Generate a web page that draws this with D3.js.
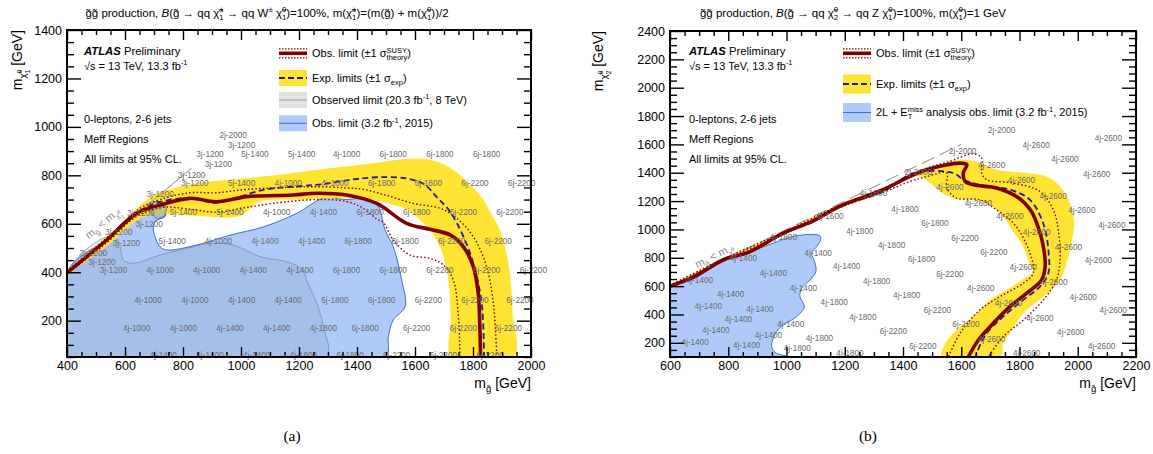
<!DOCTYPE html>
<html>
<head>
<meta charset="utf-8">
<script src="https://cdn.jsdelivr.net/npm/d3@7"></script>
<style>
  body { margin: 0; background: #fff; }
  svg { font-family: "Liberation Sans", Arial, sans-serif; }
</style>
</head>
<body>
<svg id="chart" width="1153" height="454"></svg>
<script>
// gluino exclusion plots, two panels (a) and (b)
// all curves in GeV: [m_gluino, m_neutralino]

const G = "g\u0303", X = "\u03c7\u0303"

// ---- panel (a) ----
const obsA = [[400,398],[537,533],[640,643],[732,681],[824,705],[916,691],[1020,712],[1180,719],[1261,726],[1364,719],[1468,684],[1571,602],[1652,577],[1721,554],[1767,505],[1801,423],[1818,313],[1824,161],[1826,50]]
const obsUpA = [[400,405],[550,555],[650,662],[721,700],[824,728],[916,728],[1020,742],[1261,753],[1364,748],[1422,742],[1500,718],[1594,684],[1686,664],[1744,623],[1801,547],[1847,423],[1870,272],[1878,148],[1882,50]]
const obsDnA = [[400,392],[540,525],[640,630],[732,668],[824,660],[916,648],[1020,668],[1150,690],[1261,700],[1364,692],[1420,665],[1468,620],[1491,605],[1525,533],[1583,471],[1652,457],[1698,430],[1732,368],[1749,230],[1755,50]]
const expA = [[400,400],[540,538],[640,645],[721,690],[824,705],[916,687],[1077,740],[1200,755],[1284,764],[1380,782],[1468,792],[1560,789],[1629,765],[1675,710],[1721,650],[1767,547],[1801,437],[1830,272],[1838,50]]
const bandOutA = [[400,408],[550,560],[698,719],[767,746],[847,767],[1077,795],[1307,829],[1468,852],[1560,866],[1629,868],[1700,845],[1744,812],[1790,760],[1830,710],[1859,650],[1893,574],[1922,437],[1937,230],[1941,50]]
const bandInA = [[400,392],[550,520],[650,620],[732,640],[850,632],[997,632],[1060,690],[1200,700],[1350,705],[1450,700],[1520,680],[1571,660],[1629,602],[1686,505],[1715,368],[1723,203],[1726,50]]
const run2015A = [[400,50],[400,400],[540,540],[640,640],[686,670],[732,700],[744,657],[738,630],[703,609],[698,574],[721,505],[744,492],[847,512],[962,553],[1077,587],[1192,643],[1284,705],[1364,700],[1422,705],[1468,684],[1497,574],[1525,505],[1554,368],[1566,258],[1525,203],[1508,134],[1497,50]]
const run8A = [[400,50],[400,400],[550,550],[580,520],[594,450],[629,437],[721,471],[836,505],[893,519],[973,512],[1066,464],[1158,443],[1215,409],[1226,368],[1261,272],[1284,175],[1293,50]]
const run8PatchA = [[684,668],[700,692],[728,690],[744,662],[736,632],[710,618],[694,640]]
const diagA = [[400,400],[830,830]]
const srA = [
  [640,170,"4j-1000"],[801,170,"4j-1000"],[962,170,"4j-1400"],[1123,170,"4j-1400"],[1284,170,"4j-1800"],[1428,170,"6j-1800"],[1606,170,"6j-2200"],[1767,170,"6j-2200"],[1922,170,"6j-2200"],
  [680,285,"4j-1000"],[841,285,"4j-1000"],[1002,285,"4j-1400"],[1163,285,"4j-1400"],[1324,285,"6j-1800"],[1485,285,"6j-1800"],[1646,285,"6j-2200"],[1807,285,"6j-2200"],[1962,285,"6j-2200"],
  [560,409,"3j-1200"],[721,409,"4j-1000"],[882,409,"4j-1000"],[1042,409,"4j-1400"],[1203,409,"4j-1400"],[1364,409,"6j-1800"],[1525,409,"6j-1800"],[1686,409,"6j-2200"],[1847,409,"6j-2200"],[2008,409,"6j-2200"],
  [605,522,"3j-1200"],[763,529,"5j-1400"],[922,529,"4j-1000"],[1083,529,"4j-1400"],[1244,529,"4j-1400"],[1404,529,"6j-1800"],[1566,529,"6j-1800"],[1727,529,"6j-2200"],[1887,529,"6j-2200"],
  [801,649,"5j-1400"],[962,649,"5j-1400"],[1123,649,"4j-1000"],[1284,649,"4j-1400"],[1445,649,"6j-1800"],[1606,649,"6j-1800"],[1767,649,"6j-2200"],[1927,649,"6j-2200"],
  [841,768,"3j-1200"],[1002,768,"5j-1400"],[1163,768,"4j-1000"],[1324,768,"4j-1000"],[1485,768,"6j-1800"],[1646,768,"6j-1800"],[1807,768,"6j-2200"],[1968,768,"6j-2200"],
  [893,888,"3j-1200"],[1048,888,"5j-1400"],[1209,888,"5j-1400"],[1364,888,"4j-1000"],[1525,888,"6j-1800"],[1686,888,"6j-1800"],[1847,888,"6j-1800"],
  [922,845,"3j-1200"],[973,968,"2j-2000"],[1002,926,"3j-1200"],[830,802,"3j-1200"],[721,723,"3j-1200"],[655,643,"3j-1200"],[683,600,"3j-1200"],[578,566,"3j-1200"],[491,481,"3j-1200"],[520,444,"3j-1200"],
  [732,58,"4j-1400"],[893,58,"4j-1400"],[1054,58,"4j-1400"],[1215,58,"4j-1800"],[1376,58,"6j-1800"],[1537,58,"6j-2200"],[1698,58,"6j-2200"],[1859,58,"6j-2200"]
]

// ---- panel (b) ----
const obsB = [[600,600],[680,663],[783,786],[875,844],[989,974],[1087,1056],[1184,1165],[1332,1280],[1413,1363],[1481,1421],[1596,1468],[1619,1457],[1607,1398],[1613,1339],[1641,1315],[1721,1292],[1795,1225],[1840,1130],[1865,1010],[1882,879],[1888,738],[1876,644],[1825,550],[1767,455],[1710,338],[1659,220],[1624,100]]
const obsUpB = [[600,606],[783,792],[989,980],[1184,1172],[1332,1290],[1413,1372],[1481,1432],[1561,1480],[1641,1534],[1670,1504],[1670,1398],[1687,1351],[1779,1327],[1870,1268],[1916,1139],[1933,997],[1939,785],[1927,644],[1882,503],[1813,361],[1744,243],[1693,100]]
const obsDnB = [[600,594],[783,780],[989,965],[1184,1155],[1332,1262],[1420,1335],[1480,1372],[1550,1398],[1550,1292],[1584,1221],[1664,1209],[1721,1139],[1784,1033],[1836,833],[1847,691],[1813,621],[1733,526],[1664,432],[1596,267],[1556,100]]
const expB = [[600,598],[680,660],[783,783],[875,840],[989,970],[1087,1050],[1184,1160],[1332,1268],[1436,1397],[1573,1398],[1607,1351],[1664,1315],[1767,1280],[1836,1209],[1882,1040],[1899,856],[1899,691],[1870,597],[1813,503],[1744,385],[1687,267],[1653,126],[1650,100]]
const bandOutB = [[600,606],[783,794],[989,982],[1184,1176],[1332,1292],[1420,1380],[1500,1440],[1560,1475],[1619,1492],[1664,1468],[1721,1421],[1825,1398],[1893,1374],[1939,1304],[1973,1186],[1988,1045],[1980,920],[1968,809],[1939,644],[1882,526],[1813,409],[1767,267],[1744,197],[1733,100]]
const bandInB = [[600,592],[783,776],[989,960],[1184,1150],[1332,1260],[1390,1345],[1458,1374],[1493,1327],[1527,1268],[1573,1221],[1641,1209],[1699,1174],[1744,1091],[1779,980],[1807,903],[1836,750],[1848,703],[1825,667],[1756,573],[1699,503],[1641,385],[1573,267],[1539,173],[1533,100]]
const twoLB = [[600,100],[600,590],[680,650],[783,773],[955,903],[1001,938],[1058,962],[1115,955],[1117,927],[1104,879],[1087,833],[1098,762],[1101,703],[1081,644],[1052,585],[1046,526],[1061,455],[1035,385],[989,326],[966,279],[949,173],[966,126],[1001,105],[1001,100]]
const diagB = [[600,600],[1600,1600]]
const srB = [
  [1149,1096,"4j-1600"],[1109,837,"4j-1400"],[955,691,"4j-1400"],[808,545,"4j-1400"],[732,460,"4j-1400"],[835,366,"4j-1400"],[758,291,"4j-1400"],[686,208,"4j-1400"],[909,437,"4j-1400"],[938,255,"4j-1400"],[863,183,"4j-1400"],[1058,585,"4j-1400"],[1014,333,"4j-1400"],[701,644,"4j-1400"],[852,797,"4j-1400"],[989,946,"4j-1800"],
  [1252,992,"4j-1800"],[1361,891,"4j-1800"],[1464,790,"6j-1800"],[1207,743,"4j-1400"],[1310,637,"4j-1800"],[1413,538,"4j-1800"],[1164,489,"4j-1800"],[1262,381,"4j-1800"],[1367,284,"6j-2200"],[1468,178,"6j-2200"],[1113,234,"4j-1800"],[1037,164,"4j-1800"],[1218,126,"4j-1800"],
  [1659,1190,"4j-2600"],[1510,1045,"6j-1800"],[1767,1096,"4j-2600"],[1613,939,"6j-2200"],[1859,985,"4j-2600"],[1712,840,"6j-2200"],[1968,879,"4j-2600"],[1813,734,"4j-2600"],[1561,686,"6j-2200"],[1918,630,"4j-2600"],[1667,585,"4j-2600"],[1762,479,"4j-2600"],[1518,432,"6j-2200"],[1870,373,"4j-2600"],[1616,333,"6j-2200"],[1704,225,"4j-2600"],[1825,130,"4j-2600"],[1976,279,"4j-2600"],[2019,526,"4j-2600"],[2071,785,"4j-2600"],[2014,1139,"4j-2600"],[2117,1033,"4j-2600"],[2122,432,"4j-2600"],[2082,180,"4j-2600"],
  [1739,1699,"2j-2000"],[1857,1598,"4j-2600"],[1956,1497,"4j-2600"],[1605,1551,"2j-2000"],[1704,1452,"4j-2600"],[1807,1351,"4j-2600"],[1916,1238,"4j-2600"],[1561,1299,"4j-2600"],[2105,1645,"4j-2600"],[2065,1393,"4j-2600"],[1407,1144,"4j-1800"],[1298,1257,"4j-1800"],[1453,1402,"2j-2000"]
]

// colours
const YELLOW = "#ffe433", RED = "#800000", NAVY = "#1c1c9c"
const BLUE_FILL = "#afcaf8", BLUE_LINE = "#3a6fd8"

const svg = d3.select("#chart")

// text with super/subscripts. opts: i italic, b bold, u sup, d sub,
// U / D small sup/sub inside a subscript, s = stack over previous piece
function rich(t, segs, fs) {
  let cur = 0, prevW = 0, pend = 0
  segs.forEach(([s, o = ""]) => {
    let off = 0, k = 1
    if (o.includes("u")) { off = -0.42 * fs; k = 0.68 }
    if (o.includes("d")) { off = 0.28 * fs; k = 0.68 }
    if (o.includes("U")) { off = 0.0 * fs; k = 0.5 }
    if (o.includes("D")) { off = 0.55 * fs; k = 0.5 }
    const ts = t.append("tspan").text(s).attr("dy", off - cur).attr("font-size", fs * k)
    cur = off
    if (o.includes("i")) ts.attr("font-style", "italic")
    if (o.includes("b")) ts.attr("font-weight", "bold")
    const dx = o.includes("s") ? -prevW : pend
    pend = 0
    if (dx) ts.attr("dx", dx)
    const w = ts.node().getComputedTextLength()
    if (o.includes("s") && w < prevW) pend = prevW - w
    prevW = w
  })
  return t
}

function panel(cfg) {
  const x = d3.scaleLinear().domain(cfg.xd).range(cfg.xr)
  const y = d3.scaleLinear().domain(cfg.yd).range(cfg.yr)
  const g = svg.append("g")
  const id = "clip" + cfg.name
  svg.append("clipPath").attr("id", id).append("rect")
    .attr("x", cfg.xr[0]).attr("y", cfg.yr[1])
    .attr("width", cfg.xr[1] - cfg.xr[0]).attr("height", cfg.yr[0] - cfg.yr[1])
  const area = g.append("g").attr("clip-path", `url(#${id})`)

  const line = d3.line().x(d => x(d[0])).y(d => y(d[1])).curve(d3.curveCatmullRom.alpha(0.5))
  const poly = d3.line().x(d => x(d[0])).y(d => y(d[1])).curve(d3.curveCatmullRomClosed.alpha(0.5))
  const straight = d3.line().x(d => x(d[0])).y(d => y(d[1]))

  cfg.draw(area, { x, y, line, poly, straight })

  // signal region labels
  g.append("g").selectAll("text").data(cfg.sr).join("text")
    .attr("x", d => x(d[0])).attr("y", d => y(d[1]) + 3)
    .attr("text-anchor", "middle").attr("font-size", 8.2)
    .attr("fill", "#6a6a6a")
    .text(d => d[2])

  cfg.lines(area, { x, y, line, poly, straight })

  // axes, ROOT style: ticks inside on all four sides
  const xMaj = d3.range(cfg.xd[0], cfg.xd[1] + 1, 200)
  const xMin = d3.range(cfg.xd[0], cfg.xd[1] + 1, 50).filter(v => v % 200)
  const yMaj = d3.range(200, cfg.yd[1] + 1, 200)
  const yMin = d3.range(Math.ceil(cfg.yd[0] / 50) * 50, cfg.yd[1] + 1, 50).filter(v => v % 200)
  const ax = g.append("g").attr("class", "axes")
  const bx = cfg.yr[0], tx = cfg.yr[1], lx = cfg.xr[0], rx = cfg.xr[1]
  ax.append("g").attr("transform", `translate(0,${bx})`)
    .call(d3.axisBottom(x).tickValues(xMaj).tickSize(-10).tickPadding(4).tickFormat(d3.format("d")))
  ax.append("g").attr("transform", `translate(0,${bx})`)
    .call(d3.axisBottom(x).tickValues(xMin).tickSize(-5).tickFormat(""))
  ax.append("g").attr("transform", `translate(0,${tx})`)
    .call(d3.axisTop(x).tickValues(xMaj).tickSize(-10).tickFormat(""))
  ax.append("g").attr("transform", `translate(0,${tx})`)
    .call(d3.axisTop(x).tickValues(xMin).tickSize(-5).tickFormat(""))
  ax.append("g").attr("transform", `translate(${lx},0)`)
    .call(d3.axisLeft(y).tickValues(yMaj).tickSize(-14).tickPadding(5).tickFormat(d3.format("d")))
  ax.append("g").attr("transform", `translate(${lx},0)`)
    .call(d3.axisLeft(y).tickValues(yMin).tickSize(-7).tickFormat(""))
  ax.append("g").attr("transform", `translate(${rx},0)`)
    .call(d3.axisRight(y).tickValues(yMaj).tickSize(-14).tickFormat(""))
  ax.append("g").attr("transform", `translate(${rx},0)`)
    .call(d3.axisRight(y).tickValues(yMin).tickSize(-7).tickFormat(""))
  ax.selectAll(".domain").remove()
  ax.selectAll(".tick line").attr("stroke", "#000").attr("stroke-width", 1.4)
  ax.selectAll(".tick text").attr("font-size", 12.5).attr("fill", "#000")
    .attr("font-family", "Liberation Sans, Arial, sans-serif")

  g.append("rect").attr("x", lx).attr("y", tx).attr("width", rx - lx).attr("height", bx - tx)
    .attr("fill", "none").attr("stroke", "#000").attr("stroke-width", 2)

  // axis titles
  rich(g.append("text").attr("x", rx).attr("y", 388).attr("text-anchor", "end"),
    [["m"], [G, "d"], [" [GeV]"]], 14)
  rich(g.append("text").attr("transform", `translate(${cfg.ylabX},${tx}) rotate(-90)`)
    .attr("text-anchor", "end"), cfg.ylab, 14)

  return { x, y, g }
}

// ---------- panel (a) ----------
panel({
  name: "A", xd: [400, 2000], yd: [50, 1400], xr: [67, 531], yr: [357, 30], sr: srA, ylabX: 22,
  ylab: [["m"], [X, "d"], ["0", "U"], ["1", "Ds"], [" [GeV]"]],
  draw(area, s) {
    area.append("path").attr("d", s.poly(run2015A)).attr("fill", BLUE_FILL)
      .attr("stroke", BLUE_LINE).attr("stroke-width", 1)
    area.append("path").attr("d", s.poly(run8A)).attr("fill", "#50607a").attr("fill-opacity", 0.1)
      .attr("stroke", "#7c8cb0").attr("stroke-width", 0.8)
    area.append("path").attr("d", s.line(bandOutA.concat(bandInA.slice().reverse())))
      .attr("fill", YELLOW)
    area.append("path").attr("d", s.straight(run8PatchA) + "Z").attr("fill", "#a9b98f").attr("fill-opacity", 0.75)
      .attr("stroke", BLUE_LINE).attr("stroke-width", 0.8)
  },
  lines(area, s) {
    area.append("path").attr("d", s.straight(diagA)).attr("stroke", "#8a8a8a").attr("stroke-width", 1).attr("fill", "none")
    ;[obsUpA, obsDnA].forEach(d => area.append("path").attr("d", s.line(d)).attr("fill", "none")
      .attr("stroke", RED).attr("stroke-width", 1.4).attr("stroke-dasharray", "1.5,2.2"))
    area.append("path").attr("d", s.line(expA)).attr("fill", "none")
      .attr("stroke", NAVY).attr("stroke-width", 1.8).attr("stroke-dasharray", "6,3.5")
    area.append("path").attr("d", s.line(obsA)).attr("fill", "none")
      .attr("stroke", RED).attr("stroke-width", 3.6)
  }
})

// ---------- panel (b) ----------
panel({
  name: "B", xd: [600, 2200], yd: [100, 2400], xr: [670, 1136], yr: [357, 31], sr: srB, ylabX: 603,
  ylab: [["m"], [X, "d"], ["0", "U"], ["2", "Ds"], [" [GeV]"]],
  draw(area, s) {
    area.append("path").attr("d", s.poly(twoLB)).attr("fill", BLUE_FILL)
      .attr("stroke", BLUE_LINE).attr("stroke-width", 1)
    area.append("path").attr("d", s.line(bandOutB.concat(bandInB.slice().reverse())))
      .attr("fill", YELLOW)
  },
  lines(area, s) {
    area.append("path").attr("d", s.straight(diagB)).attr("stroke", "#8a8a8a").attr("stroke-width", 1)
      .attr("stroke-dasharray", "14,6").attr("fill", "none")
    ;[obsUpB, obsDnB].forEach(d => area.append("path").attr("d", s.line(d)).attr("fill", "none")
      .attr("stroke", RED).attr("stroke-width", 1.4).attr("stroke-dasharray", "1.5,2.2"))
    area.append("path").attr("d", s.line(expB)).attr("fill", "none")
      .attr("stroke", NAVY).attr("stroke-width", 1.8).attr("stroke-dasharray", "6,3.5")
    area.append("path").attr("d", s.line(obsB)).attr("fill", "none")
      .attr("stroke", RED).attr("stroke-width", 3.6)
  }
})

// ---------- titles ----------
rich(svg.append("text").attr("x", 267).attr("y", 17).attr("text-anchor", "middle"), [
  [G + G + " production, "], ["B", "i"], ["(" + G + " \u2192 qq " + X], ["\u00b1", "u"], ["1", "ds"],
  [" \u2192 qq W"], ["\u00b1", "u"], [" " + X], ["0", "u"], ["1", "ds"],
  [")=100%, m(" + X], ["\u00b1", "u"], ["1", "ds"], [")=(m(" + G + ") + m(" + X], ["0", "u"], ["1", "ds"], ["))/2"]
], 11.5)
rich(svg.append("text").attr("x", 853).attr("y", 17).attr("text-anchor", "middle"), [
  [G + G + " production, "], ["B", "i"], ["(" + G + " \u2192 qq " + X], ["0", "u"], ["2", "ds"],
  [" \u2192 qq Z " + X], ["0", "u"], ["1", "ds"], [")=100%, m(" + X], ["0", "u"], ["1", "ds"], [")=1 GeV"]
], 11.5)

// ---------- ATLAS labels and notes ----------
function notes(x0) {
  const t = svg.append("text").attr("x", x0).attr("y", 55).attr("font-size", 11.3)
  t.append("tspan").text("ATLAS").attr("font-weight", "bold").attr("font-style", "italic")
  t.append("tspan").text(" Preliminary")
  rich(svg.append("text").attr("x", x0).attr("y", 69.5), [["\u221as = 13 TeV, 13.3 fb"], ["-1", "u"]], 11)
  ;["0-leptons, 2-6 jets", "Meff Regions", "All limits at 95% CL."].forEach((s, i) =>
    svg.append("text").attr("x", x0).attr("y", 123 + i * 20).attr("font-size", 11).text(s))
}
notes(84)
notes(689)

// ---------- legends ----------
function legend(x0, entries) {
  entries.forEach(e => {
    const g = svg.append("g")
    if (e.box) g.append("rect").attr("x", x0).attr("y", e.y - e.h / 2).attr("width", 28).attr("height", e.h).attr("fill", e.box)
    if (e.dots) [-4.5, 4.5].forEach(o => g.append("line").attr("x1", x0).attr("x2", x0 + 28)
      .attr("y1", e.y + o).attr("y2", e.y + o).attr("stroke", RED).attr("stroke-width", 1.2).attr("stroke-dasharray", "1.5,1.5"))
    g.append("line").attr("x1", x0).attr("x2", x0 + 28).attr("y1", e.y).attr("y2", e.y)
      .attr("stroke", e.stroke).attr("stroke-width", e.w).attr("stroke-dasharray", e.dash || null)
    rich(svg.append("text").attr("x", x0 + 33).attr("y", e.y + 3.9), e.text, 11)
  })
}
legend(279, [
  { y: 53.3, dots: true, stroke: RED, w: 3.6, text: [["Obs. limit (\u00b11 \u03c3"], ["SUSY", "u"], ["theory", "ds"], [")"]] },
  { y: 78, h: 16, box: YELLOW, stroke: NAVY, w: 1.8, dash: "6,3", text: [["Exp. limits (\u00b11 \u03c3"], ["exp", "d"], [")"]] },
  { y: 100, h: 16, box: "#e2e2e2", stroke: "#9a9a9a", w: 1, text: [["Observed limit (20.3 fb"], ["-1", "u"], [", 8 TeV)"]] },
  { y: 123.3, h: 16, box: BLUE_FILL, stroke: BLUE_LINE, w: 1, text: [["Obs. limit (3.2 fb"], ["-1", "u"], [", 2015)"]] }
])
legend(843, [
  { y: 53.3, dots: true, stroke: RED, w: 3.6, text: [["Obs. limit (\u00b11 \u03c3"], ["SUSY", "u"], ["theory", "ds"], [")"]] },
  { y: 84, h: 19, box: YELLOW, stroke: NAVY, w: 1.8, dash: "6,3", text: [["Exp. limits (\u00b11 \u03c3"], ["exp", "d"], [")"]] },
  { y: 112.5, h: 19, box: BLUE_FILL, stroke: BLUE_LINE, w: 1, text: [["2L + E"], ["miss", "u"], ["T", "ds"], [" analysis obs. limit (3.2 fb"], ["-1", "u"], [", 2015)"]] }
])

// ---------- kinematic boundary labels ----------
rich(svg.append("text").attr("transform", "translate(105,226) rotate(-40)").attr("text-anchor", "middle")
  .attr("fill", "#8a8a8a"), [["m"], [G, "d"], [" < m"], [X, "d"], ["0", "U"], ["1", "Ds"]], 11)
rich(svg.append("text").attr("transform", "translate(716,259) rotate(-26)").attr("text-anchor", "middle")
  .attr("fill", "#8a8a8a"), [["m"], [G, "d"], [" < m"], [X, "d"], ["0", "U"], ["2", "Ds"]], 11)

// ---------- captions ----------
svg.append("text").attr("x", 292).attr("y", 441).attr("text-anchor", "middle")
  .attr("font-family", "Liberation Serif, serif").attr("font-size", 15.5).text("(a)")
svg.append("text").attr("x", 868).attr("y", 441).attr("text-anchor", "middle")
  .attr("font-family", "Liberation Serif, serif").attr("font-size", 15.5).text("(b)")
</script>
</body>
</html>
